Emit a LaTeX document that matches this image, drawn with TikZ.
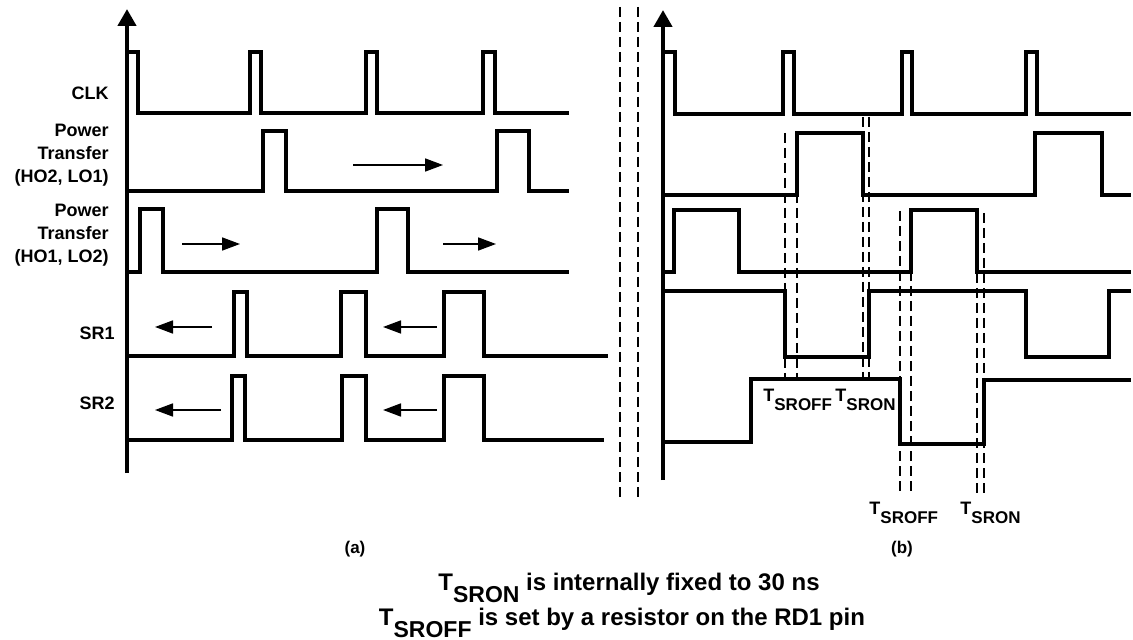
\documentclass[tikz,border=0pt]{standalone}
\usepackage{fontspec}
\setmainfont{Liberation Sans}
\usetikzlibrary{arrows.meta}
\newcommand{\tsr}[1]{T\raisebox{-4.5pt}{\fontsize{8.5}{9}\selectfont #1}}
\newcommand{\tsrbig}[1]{T\raisebox{-6pt}{\fontsize{11.5}{12}\selectfont #1}}
\tikzset{
    wave_line/.style = {line width=2pt, black},
    axis_line/.style = {line width=2.2pt, -{Triangle[length=8.5pt,width=9pt]}},
    flow_arrow/.style = {line width=0.8pt, -{Triangle[length=9pt,width=6.5pt]}},
    time_mark/.style = {line width=0.6pt, dash pattern=on 5pt off 2.5pt},
    sig_label/.style = {font=\fontsize{9}{11.5}\selectfont\bfseries, align=right, anchor=east, inner sep=0pt},
    time_label/.style = {font=\fontsize{9}{10}\selectfont\bfseries, anchor=base west, inner sep=0pt},
    cap_label/.style = {font=\fontsize{8.5}{10}\selectfont\bfseries, inner sep=0pt},
    note_label/.style = {font=\fontsize{12}{14}\selectfont\bfseries, anchor=base, inner sep=0pt}
}
\begin{document}
\begin{tikzpicture}[x=0.5pt, y=-0.5pt]
    \path[use as bounding box] (0,0) rectangle (1133,640);
    % (a) free running
    \draw[axis_line] (127,473) -- (127,9);
    \node[sig_label] (clk_a) at (109,93) {CLK};
    \node[sig_label] (pt1_a) at (109,155) {Power\\Transfer\\(HO2, LO1)};
    \node[sig_label] (pt2_a) at (109,235) {Power\\Transfer\\(HO1, LO2)};
    \node[sig_label] (sr1_a) at (115,333) {SR1};
    \node[sig_label] (sr2_a) at (115,403) {SR2};
    \draw[wave_line] (127,52) -| (138,113) -| (250,52) -| (261,113) -| (366,52) -| (377,113) -| (483,52) -| (495,113) -- (569,113);
    \draw[wave_line] (127,191) -| (263,131) -| (286,191) -| (497,131) -| (529,191) -- (569,191);
    \draw[wave_line] (127,272) -| (140,209) -| (163,272) -| (377,209) -| (408,272) -- (569,272);
    \draw[wave_line] (127,356) -| (234,292) -| (247,356) -| (341,292) -| (366,356) -| (444,292) -| (484,356) -- (608,356);
    \draw[wave_line] (127,440) -| (232,376) -| (245,440) -| (342,376) -| (366,440) -| (444,376) -| (484,440) -- (604,440);
    \draw[flow_arrow] (353,165) -- (443,165);
    \draw[flow_arrow] (182,244) -- (240,244);
    \draw[flow_arrow] (443,244) -- (496,244);
    \draw[flow_arrow] (212,327) -- (155,327);
    \draw[flow_arrow] (437,327) -- (383,327);
    \draw[flow_arrow] (221,410) -- (155,410);
    \draw[flow_arrow] (437,410) -- (383,410);
    \node[cap_label] (cap_a) at (355,549) {(a)};

    % break between the two panels
    \draw[time_mark] (620,7) -- (620,497);
    \draw[time_mark] (638,7) -- (638,497);

    % (b) dead times
    \draw[axis_line] (663,480) -- (663,10);
    \draw[wave_line] (663,52) -| (675,114) -| (783,52) -| (794,114) -| (902,52) -| (912,114) -| (1026,52) -| (1037,114) -- (1131,114);
    \draw[wave_line] (663,195) -| (797,133) -| (863,195) -| (1035,133) -| (1102,195) -- (1131,195);
    \draw[wave_line] (663,272) -| (674,210) -| (739,272) -| (911,210) -| (977,272) -- (1131,272);
    \draw[wave_line] (663,291) -| (785,357) -| (869,291) -| (1026,357) -| (1109,291) -- (1131,291);
    \draw[wave_line] (663,442) -| (751,379) -| (900,444) -| (984,380) -- (1131,380);
    \draw[time_mark] (785,133) -- (785,378);
    \draw[time_mark] (797,133) -- (797,378);
    \draw[time_mark] (863,117) -- (863,378);
    \draw[time_mark] (869,117) -- (869,378);
    \draw[time_mark] (900,211) -- (900,494);
    \draw[time_mark] (911,211) -- (911,494);
    \draw[time_mark] (977,213) -- (977,495);
    \draw[time_mark] (984,213) -- (984,495);
    \node[time_label] (toff_a) at (763,401) {\tsr{SROFF}};
    \node[time_label] (ton_a) at (835,401) {\tsr{SRON}};
    \node[time_label] (toff_b) at (869,514) {\tsr{SROFF}};
    \node[time_label] (ton_b) at (960,514) {\tsr{SRON}};
    \node[cap_label] (cap_b) at (902,549) {(b)};

    % notes
    \node[note_label] (note_on) at (629,590) {\tsrbig{SRON} is internally fixed to 30 ns};
    \node[note_label] (note_off) at (622,625) {\tsrbig{SROFF} is set by a resistor on the RD1 pin};
\end{tikzpicture}
\end{document}
